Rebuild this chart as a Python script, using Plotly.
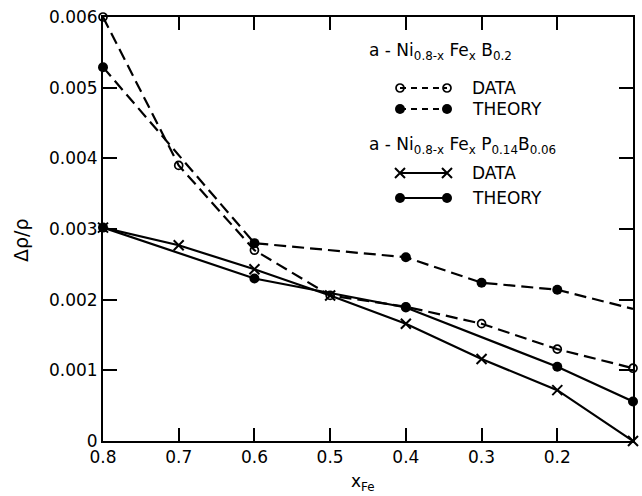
import plotly.graph_objects as go

# ---- data ----
x_b_data = [0.8, 0.7, 0.6, 0.5, 0.4, 0.3, 0.2, 0.1]
y_b_data = [0.0060, 0.0039, 0.0027, 0.00206, 0.00190, 0.00166, 0.00130, 0.00103]

x_b_theory = [0.8, 0.6, 0.4, 0.3, 0.2, 0.1]
y_b_theory = [0.00529, 0.00280, 0.00260, 0.00224, 0.00214, 0.00187]
b_theory_marked = [True, True, True, True, True, False]

x_pb_data = [0.8, 0.7, 0.6, 0.5, 0.4, 0.3, 0.2, 0.1]
y_pb_data = [0.00302, 0.00277, 0.00243, 0.00206, 0.00166, 0.00116, 0.00072, 0.0]

x_pb_theory = [0.8, 0.6, 0.4, 0.2, 0.1]
y_pb_theory = [0.00302, 0.00230, 0.00189, 0.00105, 0.00056]

x_ticks = [0.8, 0.7, 0.6, 0.5, 0.4, 0.3, 0.2, 0.1]
x_ticktext = ["0.8", "0.7", "0.6", "0.5", "0.4", "0.3", "0.2", "0.1"]
y_ticks = [0, 0.001, 0.002, 0.003, 0.004, 0.005, 0.006]
y_ticktext = ["0", "0.001", "0.002", "0.003", "0.004", "0.005", "0.006"]

FONT = "DejaVu Sans"
DASH = "12px,6px"

W, H = 642, 496
PL, PR, PT, PB = 103, 633, 17, 441  # plot area in page pixels
L, R, T, B = PL, W - PR, PT, H - PB
pw, ph = PR - PL, PB - PT

def fx(px):
    return (px - PL) / pw

def fy(py):
    return (PB - py) / ph

BLACK = "black"
open_mk = dict(symbol="circle-open", size=8, color=BLACK, opacity=1, line=dict(width=1.7, color=BLACK))
fill_mk = dict(symbol="circle", size=10, color=BLACK, opacity=1, line=dict(width=0, color=BLACK))
x_mk = dict(symbol="x-thin", size=10, color=BLACK, opacity=1, line=dict(width=2, color=BLACK))

fig = go.Figure()

def add_series(xs, ys, dash, mk, marked=None):
    fig.add_trace(go.Scatter(
        x=xs, y=ys, mode="lines",
        line=dict(color=BLACK, width=2.2, dash=dash),
        showlegend=False, cliponaxis=False, hoverinfo="skip"))
    if marked is None:
        mx, my = xs, ys
    else:
        mx = [v for v, m in zip(xs, marked) if m]
        my = [v for v, m in zip(ys, marked) if m]
    fig.add_trace(go.Scatter(
        x=mx, y=my, mode="markers", marker=mk,
        showlegend=False, cliponaxis=False))

add_series(x_b_data, y_b_data, DASH, open_mk)
add_series(x_b_theory, y_b_theory, DASH, fill_mk, b_theory_marked)
add_series(x_pb_data, y_pb_data, "solid", x_mk)
add_series(x_pb_theory, y_pb_theory, "solid", fill_mk)

# ---- legend samples on an overlay [0,1] axis pair ----
lx0, lx1 = fx(400), fx(447)
samples = [
    (fy(88), "6px,5px", open_mk),
    (fy(109), "6px,5px", fill_mk),
    (fy(173), "solid", x_mk),
    (fy(198), "solid", fill_mk),
]
for yy, dash, mk in samples:
    fig.add_trace(go.Scatter(
        x=[lx0, lx1], y=[yy, yy], mode="lines", xaxis="x2", yaxis="y2",
        line=dict(color=BLACK, width=2, dash=dash),
        showlegend=False, hoverinfo="skip"))
    fig.add_trace(go.Scatter(
        x=[lx0, lx1], y=[yy, yy], mode="markers", xaxis="x2", yaxis="y2",
        marker=mk, showlegend=False, hoverinfo="skip"))

tick_font = dict(family=FONT, size=17, color=BLACK)

fig.update_layout(
    width=W, height=H, autosize=False,
    margin=dict(l=L, r=R, t=T, b=B, pad=0, autoexpand=False),
    paper_bgcolor="white", plot_bgcolor="white",
    xaxis=dict(range=[0.8, 0.1], tickvals=x_ticks, ticktext=x_ticktext,
               ticks="inside", ticklen=13, tickwidth=1.5, tickcolor=BLACK,
               showline=True, linecolor=BLACK, linewidth=2, mirror="ticks",
               showgrid=False, zeroline=False, tickfont=tick_font, automargin=False),
    yaxis=dict(range=[0, 0.006], tickvals=y_ticks, ticktext=y_ticktext,
               ticks="inside", ticklen=14, tickwidth=1.5, tickcolor=BLACK,
               showline=True, linecolor=BLACK, linewidth=2, mirror="ticks",
               showgrid=False, zeroline=False, tickfont=tick_font, automargin=False),
    xaxis2=dict(overlaying="x", range=[0, 1], visible=False),
    yaxis2=dict(overlaying="y", range=[0, 1], visible=False),
    showlegend=False,
)

ann_font = dict(family=FONT, size=17, color=BLACK)
annotations = [
    dict(x=fx(367), y=fy(52), text="a - Ni<sub>0.8-x</sub> Fe<sub>x</sub> B<sub>0.2</sub>",
         xanchor="left", yanchor="middle"),
    dict(x=fx(470), y=fy(88), text="DATA", xanchor="left", yanchor="middle"),
    dict(x=fx(470), y=fy(109), text="THEORY", xanchor="left", yanchor="middle"),
    dict(x=fx(367), y=fy(145), text="a - Ni<sub>0.8-x</sub> Fe<sub>x</sub> P<sub>0.14</sub>B<sub>0.06</sub>",
         xanchor="left", yanchor="middle"),
    dict(x=fx(470), y=fy(173), text="DATA", xanchor="left", yanchor="middle"),
    dict(x=fx(470), y=fy(198), text="THEORY", xanchor="left", yanchor="middle"),
    dict(x=fx(21), y=fy(240), text="Δρ/ρ", textangle=-90, xanchor="center", yanchor="middle",
         font=dict(family=FONT, size=19, color=BLACK)),
    dict(x=fx(363), y=fy(482), text="x<sub>Fe</sub>", xanchor="center", yanchor="middle"),
]
for a in annotations:
    a.setdefault("font", ann_font)
    a.update(xref="paper", yref="paper", showarrow=False)
fig.update_layout(annotations=annotations)

# remove the browser's default 8px body margin so the figure fills the window
fig.write_html("out.html",
               config={"displayModeBar": False},
               post_script="document.body.style.margin='0';document.documentElement.style.overflow='hidden';")
